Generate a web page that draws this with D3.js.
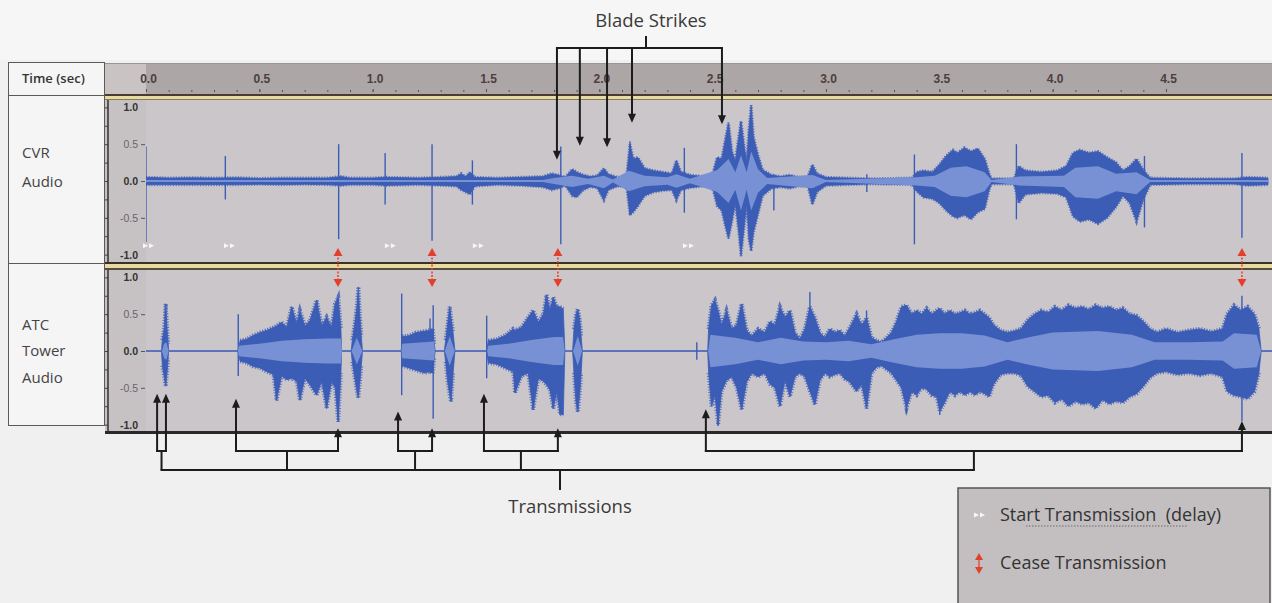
<!DOCTYPE html>
<html><head><meta charset="utf-8">
<script src="https://cdn.jsdelivr.net/npm/d3@7"></script>
<style>
body{margin:0;background:#f1f0f0;}
svg{display:block;}
</style>
</head><body>
<svg id="c" width="1272" height="603"></svg>
<script>
// ---------------- DATA ----------------
const timeTicks = [0, 0.5, 1.0, 1.5, 2.0, 2.5, 3.0, 3.5, 4.0, 4.5];
const ampTicks = [1, 0.5, 0, -0.5, -1];
const channelLabels = [["CVR", "Audio"], ["ATC", "Tower", "Audio"]];

// CVR peak envelope: [time s, top, bottom]
const cvrPeak = [
[0.00,0.05,-0.05],[0.10,0.04,-0.05],[0.20,0.045,-0.05],[0.30,0.04,-0.05],[0.40,0.045,-0.05],[0.50,0.035,-0.045],
[0.60,0.04,-0.05],[0.70,0.04,-0.045],[0.80,0.04,-0.05],[0.86,0.06,-0.06],[0.90,0.04,-0.05],[1.00,0.04,-0.05],
[1.06,0.05,-0.06],[1.20,0.04,-0.05],[1.30,0.05,-0.06],[1.37,0.06,-0.07],[1.39,0.10,-0.12],[1.41,0.06,-0.15],
[1.43,0.12,-0.18],[1.45,0.05,-0.07],[1.55,0.04,-0.05],[1.65,0.05,-0.06],[1.75,0.06,-0.08],[1.79,0.10,-0.12],
[1.82,0.08,-0.10],[1.85,0.05,-0.06],[1.88,0.16,-0.20],[1.90,0.12,-0.22],[1.93,0.08,-0.12],[1.96,0.06,-0.08],
[1.99,0.07,-0.09],[2.02,0.17,-0.26],[2.04,0.09,-0.12],[2.08,0.05,-0.07],[2.12,0.06,-0.08],[2.135,0.50,-0.46],
[2.15,0.30,-0.42],[2.17,0.32,-0.34],[2.20,0.17,-0.20],[2.24,0.14,-0.15],[2.28,0.12,-0.13],[2.32,0.10,-0.12],
[2.34,0.28,-0.26],[2.36,0.12,-0.12],[2.40,0.08,-0.09],[2.46,0.06,-0.07],[2.50,0.10,-0.10],[2.52,0.32,-0.34],
[2.54,0.30,-0.40],[2.555,0.55,-0.60],[2.57,0.79,-0.78],[2.585,0.40,-0.55],[2.60,0.27,-0.30],[2.615,0.60,-0.70],
[2.625,0.81,-1.02],[2.64,0.45,-0.60],[2.65,0.25,-0.30],[2.66,0.70,-0.80],[2.67,1.03,-0.95],[2.68,0.60,-0.70],
[2.70,0.35,-0.45],[2.72,0.15,-0.20],[2.76,0.08,-0.10],[2.80,0.06,-0.08],[2.84,0.08,-0.10],[2.88,0.05,-0.07],
[2.92,0.06,-0.07],[2.94,0.22,-0.32],[2.96,0.10,-0.15],[3.00,0.05,-0.06],[3.10,0.04,-0.05],[3.20,0.03,-0.04],
[3.30,0.035,-0.045],[3.38,0.04,-0.05],[3.40,0.12,-0.14],[3.43,0.14,-0.22],[3.47,0.12,-0.24],[3.50,0.22,-0.30],
[3.53,0.34,-0.40],[3.56,0.42,-0.48],[3.58,0.38,-0.50],[3.61,0.45,-0.46],[3.64,0.40,-0.52],[3.67,0.44,-0.42],
[3.70,0.30,-0.38],[3.72,0.10,-0.12],[3.73,0.03,-0.04],[3.83,0.03,-0.04],[3.85,0.20,-0.30],[3.88,0.14,-0.18],
[3.95,0.12,-0.16],[4.02,0.14,-0.17],[4.06,0.20,-0.22],[4.09,0.38,-0.48],[4.12,0.42,-0.55],[4.16,0.38,-0.52],
[4.20,0.40,-0.58],[4.24,0.32,-0.50],[4.28,0.25,-0.35],[4.31,0.14,-0.20],[4.34,0.20,-0.30],[4.37,0.30,-0.55],
[4.40,0.15,-0.25],[4.43,0.04,-0.05],[4.60,0.03,-0.04],[4.80,0.03,-0.04],[4.86,0.05,-0.06],[4.95,0.04,-0.05]
];
const cvrRms = [
[0,0.015,-0.015],[1.75,0.015,-0.015],[1.80,0.04,-0.04],[1.88,0.07,-0.08],[1.95,0.03,-0.04],[2.02,0.07,-0.10],
[2.06,0.02,-0.02],[2.13,0.14,-0.14],[2.20,0.07,-0.07],[2.30,0.05,-0.05],[2.34,0.09,-0.09],[2.40,0.03,-0.03],
[2.52,0.15,-0.15],[2.57,0.30,-0.30],[2.60,0.12,-0.12],[2.625,0.35,-0.40],[2.65,0.12,-0.12],[2.67,0.40,-0.40],
[2.70,0.16,-0.16],[2.74,0.04,-0.04],[2.94,0.08,-0.10],[3.00,0.015,-0.015],[3.40,0.05,-0.06],[3.48,0.07,-0.08],
[3.55,0.18,-0.20],[3.62,0.20,-0.22],[3.70,0.12,-0.14],[3.73,0.015,-0.015],[3.85,0.06,-0.06],[4.05,0.07,-0.08],
[4.10,0.18,-0.22],[4.20,0.20,-0.24],[4.28,0.10,-0.14],[4.37,0.12,-0.18],[4.43,0.015,-0.015],[4.95,0.015,-0.015]
];
const cvrSpikes = [
[0.0,0.47,-0.83],[0.35,0.34,-0.25],[0.85,0.50,-0.79],[1.055,0.38,-0.32],[1.262,0.50,-0.81],[1.44,0.28,-0.32],
[1.83,0.47,-0.86],[2.135,0.54,-0.47],[2.375,0.45,-0.43],[2.77,0.09,-0.40],[3.18,0.09,-0.15],[3.39,0.36,-0.86],
[3.84,0.50,-0.52],[4.405,0.34,-0.63],[4.835,0.38,-0.77]
];

// ATC peak envelope
const atcPeak = [
[0.000,0,0],[0.068,0,0],[0.072,0.15,-0.20],[0.080,0.30,-0.35],[0.087,0.64,-0.48],[0.093,0.30,-0.30],[0.098,0.10,-0.10],[0.100,0,0],
[0.405,0,0],[0.415,0.14,-0.14],[0.444,0.16,-0.16],[0.473,0.21,-0.21],[0.503,0.25,-0.23],[0.532,0.28,-0.28],[0.562,0.32,-0.32],
[0.576,0.34,-0.67],[0.598,0.39,-0.34],[0.621,0.32,-0.39],[0.643,0.60,-0.37],[0.665,0.37,-0.41],[0.679,0.55,-0.67],
[0.701,0.34,-0.37],[0.723,0.41,-0.46],[0.753,0.69,-0.60],[0.775,0.34,-0.41],[0.797,0.46,-0.78],[0.819,0.32,-0.41],
[0.834,0.64,-0.50],[0.848,0.73,-0.96],[0.860,0.30,-0.30],[0.863,0,0],
[0.905,0,0],[0.910,0.15,-0.15],[0.920,0.35,-0.35],[0.930,0.60,-0.55],[0.937,0.87,-0.64],[0.943,0.50,-0.45],[0.950,0.20,-0.20],[0.955,0,0],
[1.126,0,0],[1.130,0.20,-0.20],[1.150,0.20,-0.22],[1.170,0.22,-0.24],[1.190,0.25,-0.26],[1.210,0.26,-0.28],[1.230,0.27,-0.30],
[1.250,0.28,-0.28],[1.265,0.30,-0.30],[1.272,0.10,-0.10],[1.276,0,0],
[1.316,0,0],[1.322,0.15,-0.15],[1.330,0.35,-0.40],[1.340,0.60,-0.60],[1.346,0.45,-0.69],[1.355,0.25,-0.30],[1.363,0,0],
[1.502,0,0],[1.510,0.14,-0.16],[1.547,0.16,-0.18],[1.584,0.21,-0.23],[1.620,0.30,-0.28],[1.628,0.28,-0.57],[1.657,0.32,-0.34],
[1.686,0.46,-0.30],[1.708,0.55,-0.80],[1.731,0.39,-0.37],[1.753,0.50,-0.41],[1.767,0.76,-0.46],[1.782,0.55,-0.53],
[1.797,0.73,-0.78],[1.812,0.60,-0.55],[1.826,0.60,-0.85],[1.841,0.57,-0.87],[1.848,0,0],
[1.882,0,0],[1.888,0.30,-0.30],[1.897,0.50,-0.70],[1.905,0.57,-0.83],[1.913,0.45,-0.60],[1.920,0.20,-0.30],[1.925,0,0],
[2.478,0,0],[2.482,0.30,-0.30],[2.495,0.62,-0.75],[2.510,0.69,-0.60],[2.524,0.55,-1.00],[2.539,0.35,-0.55],[2.561,0.55,-0.40],
[2.584,0.30,-0.35],[2.606,0.35,-0.50],[2.628,0.64,-0.80],[2.650,0.28,-0.42],[2.672,0.20,-0.30],[2.701,0.30,-0.35],
[2.730,0.25,-0.30],[2.753,0.40,-0.45],[2.775,0.35,-0.50],[2.797,0.60,-0.75],[2.819,0.45,-0.40],[2.841,0.55,-0.62],
[2.863,0.25,-0.35],[2.885,0.16,-0.30],[2.907,0.30,-0.35],[2.929,0.60,-0.55],[2.951,0.45,-0.73],[2.973,0.25,-0.40],
[2.995,0.18,-0.30],[3.017,0.30,-0.35],[3.039,0.25,-0.32],[3.061,0.28,-0.30],[3.083,0.20,-0.38],[3.105,0.32,-0.42],
[3.135,0.50,-0.55],[3.157,0.35,-0.45],[3.179,0.45,-0.78],[3.201,0.18,-0.30],[3.223,0.14,-0.22],[3.245,0.12,-0.20],
[3.267,0.18,-0.25],[3.289,0.25,-0.30],[3.311,0.40,-0.40],[3.333,0.60,-0.50],[3.355,0.62,-0.78],[3.378,0.50,-0.55],
[3.400,0.55,-0.60],[3.422,0.50,-0.50],[3.444,0.58,-0.52],[3.466,0.50,-0.60],[3.488,0.55,-0.62],[3.502,0.58,-0.82],
[3.524,0.50,-0.70],[3.546,0.55,-0.55],[3.569,0.50,-0.60],[3.591,0.52,-0.55],[3.613,0.55,-0.60],[3.635,0.50,-0.55],
[3.657,0.52,-0.60],[3.679,0.55,-0.55],[3.700,0.50,-0.58],[3.720,0.45,-0.62],[3.740,0.35,-0.45],[3.770,0.28,-0.32],
[3.800,0.25,-0.30],[3.830,0.27,-0.30],[3.860,0.30,-0.33],[3.890,0.42,-0.48],[3.920,0.50,-0.55],[3.950,0.55,-0.62],
[3.980,0.52,-0.60],[4.010,0.60,-0.70],[4.040,0.55,-0.65],[4.070,0.62,-0.75],[4.100,0.58,-0.68],[4.130,0.60,-0.72],
[4.160,0.56,-0.70],[4.190,0.62,-0.78],[4.220,0.58,-0.66],[4.250,0.60,-0.72],[4.280,0.55,-0.68],[4.310,0.58,-0.70],
[4.340,0.50,-0.62],[4.370,0.48,-0.58],[4.400,0.40,-0.48],[4.430,0.30,-0.36],[4.460,0.25,-0.30],[4.500,0.30,-0.28],
[4.550,0.25,-0.32],[4.600,0.28,-0.30],[4.650,0.30,-0.33],[4.700,0.26,-0.30],[4.750,0.30,-0.35],[4.770,0.50,-0.55],
[4.800,0.62,-0.60],[4.830,0.55,-0.62],[4.860,0.60,-0.65],[4.890,0.50,-0.55],[4.910,0.30,-0.30],[4.920,0,0],[4.980,0,0]
];
const atcRms = [
[0.000,0,0],[0.070,0,0],[0.080,0.10,-0.10],[0.090,0.12,-0.12],[0.100,0,0],
[0.405,0,0],[0.410,0.07,-0.07],[0.500,0.10,-0.10],[0.600,0.14,-0.14],[0.700,0.16,-0.16],[0.800,0.17,-0.17],[0.860,0.17,-0.17],[0.865,0,0],
[0.907,0,0],[0.930,0.18,-0.18],[0.955,0,0],
[1.127,0,0],[1.130,0.10,-0.10],[1.270,0.13,-0.13],[1.275,0,0],
[1.318,0,0],[1.340,0.20,-0.20],[1.362,0,0],
[1.505,0,0],[1.510,0.07,-0.07],[1.600,0.10,-0.10],[1.700,0.15,-0.15],[1.800,0.19,-0.19],[1.840,0.19,-0.19],[1.847,0,0],
[1.884,0,0],[1.905,0.20,-0.20],[1.924,0,0],
[2.480,0,0],[2.490,0.22,-0.22],[2.600,0.18,-0.18],[2.700,0.12,-0.12],[2.800,0.18,-0.18],[2.900,0.13,-0.13],[3.000,0.12,-0.12],
[3.100,0.14,-0.14],[3.200,0.09,-0.09],[3.300,0.16,-0.16],[3.400,0.22,-0.22],[3.500,0.24,-0.24],[3.600,0.24,-0.24],[3.700,0.21,-0.21],
[3.800,0.12,-0.12],[3.900,0.19,-0.19],[4.000,0.25,-0.25],[4.200,0.27,-0.27],[4.350,0.22,-0.22],[4.450,0.12,-0.12],[4.600,0.12,-0.12],
[4.750,0.13,-0.13],[4.800,0.24,-0.24],[4.900,0.22,-0.22],[4.920,0,0],[4.980,0,0]
];
const atcSpikes = [
[0.407,0.50,-0.34],[0.576,0.20,-0.67],[0.643,0.60,-0.30],[0.753,0.69,-0.50],[0.797,0.40,-0.78],[0.848,0.73,-0.96],
[1.128,0.78,-0.60],[1.253,0.44,-0.30],[1.267,0.62,-0.92],[1.503,0.48,-0.37],[1.628,0.25,-0.57],[1.708,0.55,-0.80],
[1.767,0.76,-0.40],[1.797,0.73,-0.78],[1.826,0.60,-0.87],[2.430,0.12,-0.12],[2.524,0.50,-1.02],[2.929,0.80,-0.50],
[3.179,0.55,-0.78],[3.355,0.62,-0.85],[3.502,0.50,-0.87],[4.835,0.75,-0.95]
];

// annotation data
const startMarkers = [0.009, 0.366, 1.076, 1.464, 2.391];         // white "start transmission" markers (CVR)
const startMarkerAmp = -0.88;
const ceaseMarkers = [0.847, 1.262, 1.817, 4.835];                 // red cease markers
const bladeStrikes = [1.813, 1.914, 2.034, 2.144, 2.541];          // blade strike times
const bladeTipAmp = [0.29, 0.48, 0.46, 0.79, 0.77];
const txStarts = [[0.049, 0.088], [0.397], [1.112], [1.491], [2.470]];
const txStartTipAmp = [-0.58, -0.65, -0.82, -0.58, -0.79];
const txEnds = [null, 0.847, 1.262, 1.817, 4.835];
const txEndTipAmp = [null, -1.05, -1.05, -1.05, -0.95];
const legendItems = ["Start Transmission  (delay)", "Cease Transmission"];

// ---------------- DRAW ----------------
const W = 1272, H = 603;
const svg = d3.select("#c");
const x = d3.scaleLinear().domain([0, 4.5]).range([146, 1166]);
const yCvr = d3.scaleLinear().domain([-1.1, 1.1]).range([262, 100]);
const yAtc = d3.scaleLinear().domain([-1.1, 1.1]).range([432, 270]);

const TXT = "#3a3a3a";
const PEAK = "#3c5db6";
const RMS = "#7891d4";
const INK = "#1c1c1c";
const RED = "#e2402c";

svg.append("rect").attr("width", W).attr("height", H).attr("fill", "#f1f0f0");
svg.append("rect").attr("width", W).attr("height", 60).attr("fill", "#f6f6f6");

// header ruler
svg.append("rect").attr("x", 105).attr("y", 63).attr("width", 41).attr("height", 32).attr("fill", "#c9c3c3");
svg.append("rect").attr("x", 146).attr("y", 63).attr("width", W - 146).attr("height", 32).attr("fill", "#ada6a6");
svg.append("rect").attr("x", 105).attr("y", 63).attr("width", W - 105).attr("height", 1).attr("fill", "#9c9494");

const ruler = svg.append("g").attr("transform", "translate(0,92)");
ruler.call(d3.axisTop(x).tickValues(x.ticks(50).filter(t => t < 4.98)).tickSize(2).tickFormat(""));
ruler.call(g => g.select(".domain").remove());
const rulerMajor = svg.append("g").attr("transform", "translate(0,92)")
  .call(d3.axisTop(x).tickValues(timeTicks).tickSize(3).tickPadding(6).tickFormat(d => d.toFixed(1)));
rulerMajor.select(".domain").remove();
rulerMajor.selectAll("text").attr("font-family", "Liberation Sans, Arial, sans-serif")
  .attr("font-size", 12).attr("font-weight", "bold").attr("fill", "#4a4040").attr("dx", 2);
svg.selectAll(".tick line").attr("stroke", "#5a5050");

// header bottom double line
svg.append("rect").attr("x", 105).attr("y", 94).attr("width", W - 105).attr("height", 2).attr("fill", "#4a3c30");
svg.append("rect").attr("x", 105).attr("y", 96).attr("width", W - 105).attr("height", 3).attr("fill", "#e6dca2");
svg.append("rect").attr("x", 105).attr("y", 99).attr("width", W - 105).attr("height", 1).attr("fill", "#8a7a5a");

// panels
const panels = [
  {y: yCvr, top: 100, bot: 262, peak: cvrPeak, rms: cvrRms, spikes: cvrSpikes, baseline: false},
  {y: yAtc, top: 270, bot: 432, peak: atcPeak, rms: atcRms, spikes: atcSpikes, baseline: true}
];
panels.forEach((p, i) => {
  svg.append("rect").attr("x", 105).attr("y", p.top).attr("width", 41).attr("height", p.bot - p.top).attr("fill", "#c6c2c4");
  svg.append("rect").attr("x", 146).attr("y", p.top).attr("width", W - 146).attr("height", p.bot - p.top).attr("fill", "#cac6ca");
  svg.append("defs").append("clipPath").attr("id", "clip" + i)
    .append("rect").attr("x", 146).attr("y", p.top).attr("width", W - 146).attr("height", p.bot - p.top);
  const g = svg.append("g").attr("clip-path", `url(#clip${i})`);
  if (p.baseline) {
    g.append("line").attr("x1", 146).attr("x2", W).attr("y1", p.y(0)).attr("y2", p.y(0))
      .attr("stroke", "#5a74c0").attr("stroke-width", 1.2);
  }
  const nz = d => d[1] !== 0 || d[2] !== 0;
  const area = d3.area().x(d => x(d[0])).y0(d => p.y(d[2])).y1(d => p.y(d[1])).curve(d3.curveLinear);
  const lineTop = d3.line().defined(nz).x(d => x(d[0])).y(d => p.y(d[1]));
  const lineBot = d3.line().defined(nz).x(d => x(d[0])).y(d => p.y(d[2]));
  g.append("path").attr("d", area(p.peak)).attr("fill", PEAK).attr("stroke", PEAK).attr("stroke-width", 0.8);
  // hairy fringe along the envelope (rendering texture only)
  [lineTop, lineBot].forEach((lg, k) => {
    g.append("path").attr("d", lg(p.peak))
      .attr("fill", "none").attr("stroke", PEAK).attr("stroke-width", i === 0 ? 3 : 4).attr("stroke-opacity", 0.8)
      .attr("stroke-dasharray", k ? "1,1.7" : "1.2,1.5");
  });
  g.selectAll("line.spk").data(p.spikes).enter().append("line").attr("class", "spk")
    .attr("x1", d => x(d[0])).attr("x2", d => x(d[0]))
    .attr("y1", d => p.y(d[1])).attr("y2", d => p.y(d[2]))
    .attr("stroke", PEAK).attr("stroke-width", 1.4);
  g.append("path").attr("d", area(p.rms)).attr("fill", RMS);

  // vertical ruler
  const ax = svg.append("g").attr("transform", "translate(145,0)")
    .call(d3.axisLeft(p.y).tickValues(ampTicks).tickSize(4).tickPadding(3).tickFormat(d => d.toFixed(1)));
  ax.select(".domain").remove();
  ax.selectAll("line").attr("stroke", "#555");
  ax.selectAll("text").attr("font-family", "Liberation Sans, Arial, sans-serif").attr("font-size", 10.5)
    .attr("font-weight", d => Math.abs(d) === 0.5 ? "normal" : "bold").attr("fill", d => Math.abs(d) === 0.5 ? "#666" : "#333");
  ax.selectAll(".tick").filter(d => Math.abs(d) === 1).select("line").remove();
  const lr = svg.append("g").attr("transform", "translate(108,0)")
    .call(d3.axisLeft(p.y).tickValues([1, 0.75, 0.5, 0.25, 0, -0.25, -0.5, -0.75, -1]).tickSize(3).tickFormat(""));
  lr.select(".domain").remove();
  lr.selectAll("line").attr("stroke", "#444");
  svg.append("line").attr("x1", 108).attr("x2", 108).attr("y1", p.top).attr("y2", p.bot).attr("stroke", "#333").attr("stroke-width", 1.5);
});

// separator between panels
svg.append("rect").attr("x", 105).attr("y", 262).attr("width", W - 105).attr("height", 2).attr("fill", "#3c3028");
svg.append("rect").attr("x", 105).attr("y", 264).attr("width", W - 105).attr("height", 4).attr("fill", "#e6dca2");
svg.append("rect").attr("x", 105).attr("y", 268).attr("width", W - 105).attr("height", 2).attr("fill", "#5a4c3c");
// bottom line
svg.append("rect").attr("x", 105).attr("y", 431).attr("width", W - 105).attr("height", 3).attr("fill", "#2a2a2a");

// label column
svg.append("rect").attr("x", 8.5).attr("y", 62.5).attr("width", 96).attr("height", 363).attr("fill", "#f5f5f5").attr("stroke", "#5a5a5a");
[95.5, 263.5].forEach(yy => svg.append("line").attr("x1", 8.5).attr("x2", 104.5).attr("y1", yy).attr("y2", yy).attr("stroke", "#5a5a5a"));
svg.append("text").attr("x", 22).attr("y", 83).text("Time (sec)")
  .attr("font-family", "Open Sans, sans-serif").attr("font-size", 13).attr("font-weight", 600).attr("fill", "#333");
const labelBase = [[158, 187], [330, 356, 383]];
channelLabels.forEach((lines, i) => lines.forEach((s, j) =>
  svg.append("text").attr("x", 22).attr("y", labelBase[i][j]).text(s)
    .attr("font-family", "Open Sans, sans-serif").attr("font-size", 15).attr("fill", "#444")));

// start markers (white)
function startShape(cx, cy) {
  return `M${cx-6},${cy-2.5}L${cx-1},${cy}L${cx-6},${cy+2.5}Z M${cx},${cy-2.5}L${cx+5},${cy}L${cx},${cy+2.5}Z`;
}
svg.selectAll("path.start").data(startMarkers).enter().append("path").attr("class", "start")
  .attr("d", d => startShape(x(d) + 1, yCvr(startMarkerAmp))).attr("fill", "#f7f7fb");

// cease markers (red)
ceaseMarkers.forEach(t => {
  const cx = x(t);
  const yUp = yCvr(-0.91), yDn = yAtc(0.87);
  svg.append("line").attr("x1", cx).attr("x2", cx).attr("y1", yUp + 6).attr("y2", yDn - 6)
    .attr("stroke", RED).attr("stroke-width", 1.5).attr("stroke-dasharray", "2,1.5");
  svg.append("path").attr("d", `M${cx},${yUp}L${cx+4.5},${yUp+8}L${cx-4.5},${yUp+8}Z`).attr("fill", RED);
  svg.append("path").attr("d", `M${cx},${yDn}L${cx+4.5},${yDn-8}L${cx-4.5},${yDn-8}Z`).attr("fill", RED);
});

// arrow helpers
function line(x1, y1, x2, y2) {
  svg.append("line").attr("x1", x1).attr("y1", y1).attr("x2", x2).attr("y2", y2)
    .attr("stroke", INK).attr("stroke-width", 2);
}
function headDown(cx, ty) { svg.append("path").attr("d", `M${cx},${ty}L${cx+4},${ty-9}L${cx-4},${ty-9}Z`).attr("fill", INK); }
function headUp(cx, ty) { svg.append("path").attr("d", `M${cx},${ty}L${cx+4},${ty+9}L${cx-4},${ty+9}Z`).attr("fill", INK); }

// Blade strikes
const bsY = 48, bsStemX = 646;
line(x(bladeStrikes[0]) - 1, bsY, x(bladeStrikes[bladeStrikes.length - 1]) + 1, bsY);
line(bsStemX, 36, bsStemX, bsY);
bladeStrikes.forEach((t, i) => {
  const tip = yCvr(bladeTipAmp[i]);
  line(x(t), bsY, x(t), tip - 6);
  headDown(x(t), tip);
});
svg.append("text").attr("x", bsStemX + 5).attr("y", 27).attr("text-anchor", "middle").text("Blade Strikes")
  .attr("font-family", "Open Sans, sans-serif").attr("font-size", 18.5).attr("fill", TXT);

// Transmissions
const subY = 451, mainY = 470, labY = 490, labX = 560;
const stems = [];
txStarts.forEach((starts, i) => {
  const xs = starts.map(t => x(t));
  starts.forEach((t, k) => {
    const tip = yAtc(txStartTipAmp[i]);
    line(x(t), subY + 1, x(t), tip + 6);
    headUp(x(t), tip);
  });
  let xEnd = xs[xs.length - 1];
  if (txEnds[i] !== null) {
    xEnd = x(txEnds[i]);
    const tip = yAtc(txEndTipAmp[i]);
    line(xEnd, subY + 1, xEnd, tip + 6);
    headUp(xEnd, tip);
  }
  line(xs[0] - 1, subY, xEnd + 1, subY);
  const sx = (xs[0] + xEnd) / 2;
  line(sx, subY, sx, mainY);
  stems.push(sx);
});
line(d3.min(stems) - 1, mainY, d3.max(stems) + 1, mainY);
line(labX, mainY, labX, labY);
svg.append("text").attr("x", labX + 10).attr("y", 513).attr("text-anchor", "middle").text("Transmissions")
  .attr("font-family", "Open Sans, sans-serif").attr("font-size", 18.5).attr("fill", TXT);

// Legend
const lg = svg.append("g");
lg.append("rect").attr("x", 958).attr("y", 488).attr("width", 312).attr("height", 130)
  .attr("fill", "#c3bfc1").attr("stroke", "#555").attr("stroke-width", 1.5);
lg.append("path").attr("d", startShape(980, 515)).attr("fill", "#f7f7fb");
lg.append("line").attr("x1", 979).attr("x2", 979).attr("y1", 560).attr("y2", 567).attr("stroke", RED).attr("stroke-width", 1.2);
lg.append("path").attr("d", `M979,553L983,560L975,560Z`).attr("fill", RED);
lg.append("path").attr("d", `M979,574L983,567L975,567Z`).attr("fill", RED);
lg.selectAll("text.lg").data(legendItems).enter().append("text").attr("class", "lg")
  .attr("x", 1000).attr("y", (d, i) => 521 + i * 48).text(d => d)
  .attr("font-family", "Open Sans, sans-serif").attr("font-size", 18).attr("fill", "#333")
  .attr("xml:space", "preserve").style("white-space", "pre");
lg.append("line").attr("x1", 1026).attr("x2", 1188).attr("y1", 526).attr("y2", 526)
  .attr("stroke", "#6a6a6a").attr("stroke-width", 1).attr("stroke-dasharray", "1.5,1.5");
</script>
</body></html>
